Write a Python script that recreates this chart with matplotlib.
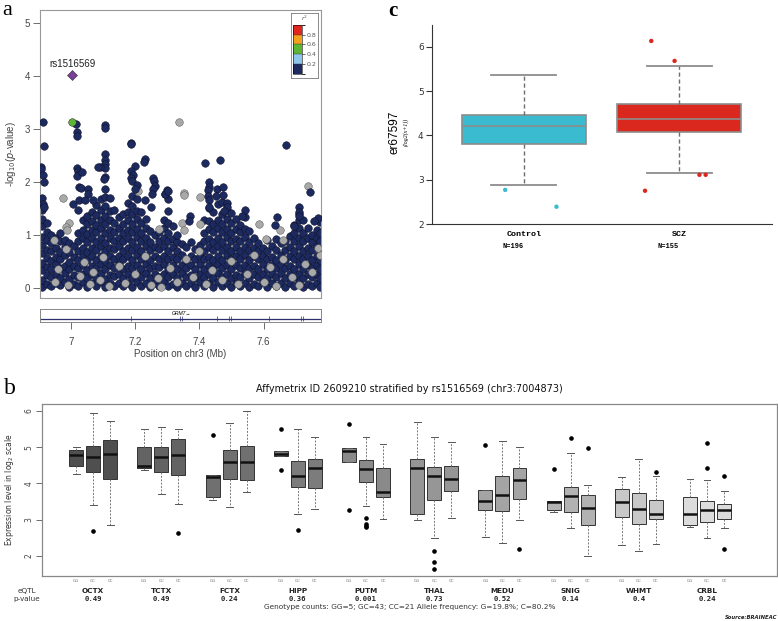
import matplotlib
matplotlib.use('Agg')
import matplotlib as mpl
import matplotlib.pyplot as plt
import matplotlib.transforms as mtransforms
from matplotlib.colors import ListedColormap, BoundaryNorm
import numpy as np

# ---------------- panel a : regional association (LocusZoom style) ----------------
band_mb = [6.911, 6.925, 6.939, 6.953, 6.967, 6.981, 6.995, 7.009, 7.023, 7.037, 7.051,
           7.065, 7.079, 7.093, 7.107, 7.121, 7.135, 7.149, 7.163, 7.177, 7.191, 7.205,
           7.219, 7.233, 7.247, 7.261, 7.275, 7.289, 7.303, 7.317, 7.331, 7.345, 7.359,
           7.373, 7.387, 7.401, 7.415, 7.429, 7.443, 7.457, 7.471, 7.485, 7.499, 7.513,
           7.527, 7.541, 7.555, 7.569, 7.583, 7.597, 7.612, 7.626, 7.640, 7.654, 7.668,
           7.682, 7.696, 7.710, 7.724, 7.738, 7.752, 7.766, 7.776]
band_logp = [
    [0.01, 0.15, 0.33, 0.47, 0.66, 0.81, 0.97, 1.16, 1.3, 1.47],
    [0.08, 0.24, 0.4, 0.57, 0.72, 0.91, 1.05, 1.22],
    [0.03, 0.21, 0.36, 0.5, 0.7, 0.84, 1.0],
    [0.1, 0.26, 0.45, 0.59, 0.76, 0.94],
    [0.05, 0.19, 0.37, 0.55, 0.68, 0.88, 1.04],
    [0.12, 0.28, 0.42, 0.62, 0.77, 0.9],
    [0.02, 0.16, 0.35, 0.49, 0.67, 0.85],
    [0.07, 0.25, 0.42, 0.59, 0.79],
    [0.03, 0.2, 0.38, 0.52, 0.7, 0.89, 1.04],
    [0.11, 0.26, 0.44, 0.6, 0.76, 0.95, 1.1, 1.29],
    [0.02, 0.18, 0.34, 0.53, 0.68, 0.86, 1.01, 1.2, 1.35],
    [0.09, 0.27, 0.41, 0.6, 0.75, 0.94, 1.09, 1.27, 1.44],
    [0.04, 0.2, 0.37, 0.52, 0.71, 0.86, 1.05, 1.19, 1.38, 1.57],
    [0.12, 0.28, 0.45, 0.61, 0.79, 0.95, 1.13, 1.28, 1.47, 1.67],
    [0.02, 0.17, 0.35, 0.51, 0.7, 0.85, 1.03, 1.21, 1.36, 1.55, 1.71, 1.86],
    [0.1, 0.25, 0.43, 0.61, 0.76, 0.95, 1.1, 1.29, 1.45, 1.69],
    [0.04, 0.22, 0.38, 0.55, 0.73, 0.88, 1.06, 1.22, 1.48],
    [0.1, 0.27, 0.45, 0.6, 0.79, 0.94, 1.13, 1.33],
    [0.03, 0.18, 0.36, 0.54, 0.7, 0.88, 1.03, 1.21, 1.4],
    [0.09, 0.26, 0.42, 0.61, 0.76, 0.95, 1.1, 1.29, 1.44, 1.61],
    [0.02, 0.19, 0.37, 0.52, 0.71, 0.86, 1.05, 1.2, 1.39, 1.55, 1.73],
    [0.11, 0.27, 0.44, 0.62, 0.77, 0.96, 1.11, 1.3, 1.46, 1.68],
    [0.03, 0.21, 0.36, 0.55, 0.7, 0.89, 1.04, 1.23, 1.43],
    [0.1, 0.28, 0.46, 0.61, 0.8, 0.95, 1.14, 1.31],
    [0.02, 0.18, 0.37, 0.52, 0.71, 0.86, 1.07],
    [0.09, 0.27, 0.42, 0.61, 0.77, 0.99],
    [0.04, 0.2, 0.39, 0.55, 0.73, 0.88, 1.06],
    [0.11, 0.26, 0.45, 0.6, 0.79, 0.94, 1.13, 1.28],
    [0.03, 0.21, 0.36, 0.55, 0.7, 0.89, 1.04, 1.23, 1.45],
    [0.08, 0.26, 0.44, 0.59, 0.78, 0.93, 1.17],
    [0.02, 0.19, 0.35, 0.54, 0.69, 0.87, 0.99],
    [0.1, 0.28, 0.43, 0.62, 0.83],
    [0.04, 0.2, 0.38, 0.53, 0.78],
    [0.09, 0.25, 0.44, 0.6, 0.86],
    [0.02, 0.19, 0.35, 0.54, 0.73],
    [0.11, 0.27, 0.45, 0.61, 0.81],
    [0.03, 0.21, 0.36, 0.55, 0.7, 0.89, 1.04, 1.28],
    [0.09, 0.26, 0.44, 0.59, 0.78, 0.93, 1.12, 1.27, 1.5],
    [0.02, 0.18, 0.37, 0.52, 0.71, 0.86, 1.05, 1.2, 1.43],
    [0.12, 0.28, 0.46, 0.61, 0.8, 0.95, 1.14, 1.29, 1.58],
    [0.03, 0.2, 0.38, 0.53, 0.72, 0.87, 1.06, 1.21, 1.4, 1.63],
    [0.1, 0.27, 0.43, 0.62, 0.77, 0.96, 1.11, 1.3, 1.48],
    [0.02, 0.19, 0.36, 0.54, 0.69, 0.88, 1.03, 1.22, 1.41],
    [0.09, 0.25, 0.44, 0.6, 0.78, 0.93, 1.12, 1.3],
    [0.04, 0.21, 0.37, 0.55, 0.7, 0.89, 1.05, 1.18],
    [0.1, 0.28, 0.43, 0.62, 0.77, 0.96, 1.11, 1.33],
    [0.02, 0.18, 0.37, 0.52, 0.71, 0.86, 1.08],
    [0.08, 0.26, 0.42, 0.61, 0.76, 0.94],
    [0.03, 0.21, 0.36, 0.55, 0.7, 0.84],
    [0.11, 0.27, 0.45, 0.6, 0.76],
    [0.02, 0.19, 0.35, 0.54, 0.69, 0.9],
    [0.09, 0.26, 0.44, 0.59, 0.8],
    [0.04, 0.2, 0.38, 0.53, 0.72, 0.93],
    [0.1, 0.28, 0.43, 0.62, 0.84],
    [0.02, 0.18, 0.37, 0.52, 0.71, 0.88],
    [0.09, 0.27, 0.42, 0.61, 0.77, 0.98],
    [0.03, 0.2, 0.36, 0.55, 0.7, 0.89, 1.04, 1.19],
    [0.11, 0.26, 0.45, 0.6, 0.79, 0.94, 1.13, 1.28, 1.4],
    [0.02, 0.19, 0.35, 0.54, 0.69, 0.88, 1.03, 1.28],
    [0.08, 0.27, 0.43, 0.61, 0.76, 0.95, 1.13],
    [0.04, 0.2, 0.38, 0.52, 0.71, 0.87, 0.99],
    [0.1, 0.26, 0.44, 0.6, 0.79, 0.94, 1.1],
    [0.02, 0.19, 0.35, 0.53, 0.7, 0.88, 1.03, 1.24],
]

# navy SNPs standing above the cloud
spike_mb = [6.912, 6.917, 6.908, 6.908, 6.913, 6.916, 6.910, 6.913, 6.917,
            7.017, 7.018, 7.018, 7.018, 7.022, 7.019, 7.024, 7.024, 7.023, 7.006, 7.035, 7.032,
            7.106, 7.106, 7.106, 7.106, 7.106, 7.106, 7.090, 7.085, 7.107, 7.104,
            7.053, 7.055, 7.068, 7.045,
            7.188, 7.188, 7.232, 7.228, 7.199, 7.187, 7.194, 7.188, 7.190, 7.207, 7.199,
            7.257, 7.259, 7.262, 7.257, 7.254, 7.230, 7.249, 7.293, 7.303, 7.298, 7.292, 7.302,
            7.418, 7.465, 7.670, 7.429, 7.430, 7.455, 7.475,
            7.427, 7.426, 7.431, 7.429, 7.453, 7.475, 7.485, 7.487, 7.476, 7.370, 7.369,
            7.541, 7.534, 7.643, 7.637, 7.695, 7.712, 7.712, 7.709, 7.745, 7.771, 7.758]
spike_logp = [3.13, 2.67, 2.29, 2.24, 2.13, 2.0, 1.69, 1.59, 1.53,
              3.09, 2.94, 2.86, 2.26, 2.20, 2.12, 1.90, 1.65, 1.47, 1.59, 2.18, 1.88,
              3.08, 3.02, 2.53, 2.42, 2.33, 2.27, 2.28, 2.28, 2.10, 2.06,
              1.86, 1.77, 1.65, 1.65,
              2.74, 2.71, 2.43, 2.37, 2.30, 2.20, 2.14, 2.08, 2.01, 1.95, 1.86,
              2.08, 2.02, 1.93, 1.86, 1.77, 1.65, 1.53, 1.77, 1.68, 1.84, 1.78, 1.82,
              2.35, 2.41, 2.70, 2.0, 1.91, 1.86, 1.91,
              1.85, 1.74, 1.66, 1.52, 1.73, 1.76, 1.61, 1.53, 1.45, 1.35, 1.26,
              1.48, 1.35, 1.33, 1.19, 1.17, 1.52, 1.43, 1.35, 1.81, 1.32, 1.26]

# SNPs without LD information (grey)
grey_mb = [7.338, 6.977, 7.351, 7.353, 7.403, 7.740, 6.995, 6.985, 6.988, 6.986, 6.948,
           7.345, 7.403, 7.273, 7.209, 7.586, 7.650, 7.607, 7.661, 7.351, 7.776,
           6.95, 6.96, 6.99, 7.03, 7.04, 7.06, 7.07, 7.09, 7.10, 7.12, 7.15, 7.17, 7.20,
           7.23, 7.25, 7.27, 7.28, 7.31, 7.33, 7.36, 7.38, 7.40, 7.42, 7.44, 7.47, 7.50,
           7.52, 7.55, 7.57, 7.60, 7.62, 7.64, 7.66, 7.69, 7.71, 7.73, 7.75, 7.77]
grey_logp = [3.14, 1.70, 1.79, 1.75, 1.71, 1.92, 1.23, 1.15, 1.09, 0.74, 0.90,
             1.23, 1.21, 1.12, 1.82, 1.21, 1.10, 0.93, 0.91, 1.09, 0.63,
             0.12, 0.35, 0.05, 0.22, 0.48, 0.08, 0.30, 0.15, 0.58, 0.04, 0.42, 0.10, 0.27,
             0.60, 0.05, 0.18, 0.02, 0.38, 0.12, 0.55, 0.20, 0.70, 0.08, 0.33, 0.15, 0.50,
             0.07, 0.27, 0.62, 0.12, 0.40, 0.04, 0.55, 0.20, 0.06, 0.45, 0.30, 0.75]

lead_snp = 'rs1516569'
lead_mb, lead_logp = 7.0049, 4.02
ld_mb, ld_logp = 7.0049, 3.13   # the one SNP with r2 0.4-0.6
exon_mb = [7.187, 7.341, 7.346, 7.455, 7.491, 7.498, 7.618, 7.717, 7.723]
r2_bounds = [0, 0.2, 0.4, 0.6, 0.8, 1.0]
r2_colors = ['#1c2a60', '#8ec5ea', '#5db535', '#f4a21d', '#e0261d']

# ---------------- panel b : BRAINEAC eQTL boxplots ----------------
regions = ['OCTX', 'TCTX', 'FCTX', 'HIPP', 'PUTM', 'THAL', 'MEDU', 'SNIG', 'WHMT', 'CRBL']
eqtl_p = ['0.49', '0.49', '0.24', '0.36', '0.001', '0.73', '0.52', '0.14', '0.4', '0.24']
genotypes = ['GG', 'GC', 'CC']
# per box, in order region x (GG, GC, CC)
b_whislo = [4.25, 3.40, 2.85, 4.37, 3.70, 3.44, 3.54, 3.35, 3.75, 4.75, 3.15, 3.28,
            4.58, 3.36, 3.02, 2.99, 2.49, 3.05, 2.52, 2.34, 2.99, 3.20, 2.77, 2.00,
            2.29, 2.13, 2.32, 2.80, 2.49, 2.76]
b_q1 = [4.48, 4.31, 4.12, 4.41, 4.32, 4.24, 3.61, 4.13, 4.08, 4.75, 3.89, 3.87,
        4.58, 4.03, 3.62, 3.14, 3.54, 3.78, 3.26, 3.23, 3.56, 3.27, 3.21, 2.86,
        3.08, 2.87, 3.01, 2.86, 2.92, 3.02]
b_med = [4.77, 4.73, 4.82, 4.48, 4.73, 4.79, 4.18, 4.58, 4.60, 4.82, 4.21, 4.43,
         4.89, 4.39, 3.77, 4.41, 4.19, 4.11, 3.50, 3.68, 4.09, 3.48, 3.66, 3.33,
         3.48, 3.29, 3.16, 3.15, 3.27, 3.26]
b_q3 = [4.93, 5.02, 5.20, 5.00, 5.00, 5.22, 4.23, 4.92, 5.04, 4.88, 4.62, 4.66,
        4.97, 4.65, 4.41, 4.66, 4.46, 4.49, 3.81, 4.20, 4.42, 3.50, 3.91, 3.68,
        3.85, 3.73, 3.53, 3.61, 3.50, 3.42]
b_whishi = [5.00, 5.94, 5.71, 5.49, 5.55, 5.49, 4.23, 5.66, 6.01, 4.88, 5.50, 5.28,
            4.97, 5.28, 5.08, 5.68, 5.29, 5.15, 3.81, 5.17, 5.01, 3.50, 4.83, 3.95,
            4.18, 4.66, 4.21, 4.13, 4.10, 3.79]
b_fliers = [[], [2.69], [], [], [], [2.64], [5.34], [], [], [5.50, 4.36], [2.71], [],
            [5.65, 3.27], [3.03, 2.88, 2.83, 2.80], [], [], [2.13, 1.82, 1.64], [], [5.05], [], [2.18],
            [4.40], [5.26], [4.97], [], [], [4.32], [], [5.12, 4.43], [4.20, 2.19]]
region_fill = ['#4f4f4f', '#636363', '#707070', '#7c7c7c', '#8a8a8a', '#969696',
               '#a4a4a4', '#b2b2b2', '#c8c8c8', '#dcdcdc']

# ---------------- panel c : er67597 expression by diagnosis ----------------
c_groups = ['Control', 'SCZ']
c_n = ['N=196', 'N=155']
c_whislo = [2.88, 3.15]
c_q1 = [3.81, 4.07]
c_med = [4.20, 4.37]
c_q3 = [4.46, 4.70]
c_whishi = [5.36, 5.57]
c_out_group = [0, 0, 1, 1, 1, 1, 1]
c_out_jitter = [-0.12, 0.21, -0.18, -0.03, -0.22, 0.13, 0.17]
c_out_val = [2.77, 2.39, 6.13, 5.68, 2.75, 3.11, 3.11]
c_colors = ['#3bbbd0', '#da281e']

sans = ['Liberation Sans', 'DejaVu Sans']

fig = plt.figure(figsize=(7.78, 6.21), dpi=100)
W, H = 778.0, 621.0


def px_axes(x0, y0, x1, y1):
    # axes from pixel box (top-left origin)
    return fig.add_axes([x0 / W, 1 - y1 / H, (x1 - x0) / W, (y1 - y0) / H])


# ---- panel a
ax = px_axes(40, 10, 321, 298)
xs, ys = [], []
for x, col in zip(band_mb, band_logp):
    xs += [x] * len(col)
    ys += col
dot = 30
ax.scatter(xs, ys, s=dot, c=r2_colors[0], edgecolors='#0c0c20', linewidths=0.35, zorder=2)
ax.scatter(grey_mb, grey_logp, s=dot, c='#a9a9a9', edgecolors='#555555', linewidths=0.35, zorder=3)
ax.scatter(spike_mb, spike_logp, s=dot, c=r2_colors[0], edgecolors='#0c0c20', linewidths=0.35, zorder=4)
ax.scatter([ld_mb], [ld_logp], s=dot, c=r2_colors[2], edgecolors='#222222', linewidths=0.35, zorder=5)
ax.scatter([lead_mb], [lead_logp], s=26, marker='D', c='#7b3f98', edgecolors='#222222',
           linewidths=0.35, zorder=6)
ax.text(lead_mb, lead_logp + 0.2, lead_snp, ha='center', va='center', fontsize=7,
        family=sans, color='#222222')
ax.set_xlim(6.904, 7.779)
ax.set_ylim(-0.19, 5.245)
ax.set_xticks([])
ax.set_yticks(range(6))
ax.tick_params(axis='y', length=5, width=0.6, color='#555555', labelsize=7,
               labelcolor='#444444', pad=2)
for lab in ax.get_yticklabels():
    lab.set_family(sans)
for sp in ax.spines.values():
    sp.set_color('#999999')
    sp.set_linewidth(0.8)
ax.set_ylabel('-log$_{10}$($p$-value)', fontsize=7, color='#444444', family=sans, labelpad=5)

# gene track
tr = px_axes(40, 309, 321, 322)
tr.set_xlim(6.904, 7.779)
tr.set_ylim(0, 1)
tr.axhline(0.2, color='#2b2f6e', lw=0.9)
tr.vlines(exon_mb, 0.08, 0.45, color='#2b2f6e', lw=0.5)
tr.text(7.345, 0.66, 'GRM7\u2192', fontsize=3.6, style='italic', ha='center', va='center',
        family=sans)
tr.set_yticks([])
tr.set_xticks([7.0, 7.2, 7.4, 7.6])
tr.set_xticklabels(['7', '7.2', '7.4', '7.6'])
tr.tick_params(axis='x', length=5, width=0.6, color='#555555', labelsize=7,
               labelcolor='#444444', pad=6)
for lab in tr.get_xticklabels():
    lab.set_family(sans)
for sp in tr.spines.values():
    sp.set_color('#888888')
    sp.set_linewidth(0.7)
tr.set_xlabel('Position on chr3 (Mb)', fontsize=7, color='#444444', family=sans, labelpad=1)

# r2 legend
lg = px_axes(290.5, 13, 318, 77.5)
lg.set_xticks([])
lg.set_yticks([])
for sp in lg.spines.values():
    sp.set_color('#777777')
    sp.set_linewidth(0.6)
lg.text(0.5, 0.91, 'r$^2$', ha='center', va='center', fontsize=4.5, style='italic',
        color='#555555', transform=lg.transAxes)
cax = px_axes(292.5, 25, 302, 73.5)
cmap = ListedColormap(r2_colors)
norm = BoundaryNorm(r2_bounds, cmap.N)
cb = mpl.colorbar.ColorbarBase(cax, cmap=cmap, norm=norm, ticks=[0.2, 0.4, 0.6, 0.8],
                               drawedges=True)
cb.dividers.set_color('#333333')
cb.dividers.set_linewidth(0.3)
cb.outline.set_linewidth(0.4)
cax.tick_params(length=2, width=0.4, labelsize=4.5, labelcolor='#555555', pad=1)

fig.text(2 / W, 1 - 1 / H, 'a', fontsize=16, family='Liberation Serif', va='top', ha='left')

# ---- panel c
cx = px_axes(432, 25, 772, 224)
stats_c = []
for i in range(2):
    stats_c.append(dict(med=c_med[i], q1=c_q1[i], q3=c_q3[i],
                        whislo=c_whislo[i], whishi=c_whishi[i], fliers=[]))
bp = cx.bxp(stats_c, positions=[0, 1], widths=0.8, capwidths=0.42, patch_artist=True,
            showfliers=False,
            boxprops=dict(edgecolor='#8c8c8c', linewidth=1.2),
            medianprops=dict(color='#8c8c8c', linewidth=1.2),
            whiskerprops=dict(color='#6e6e6e', linestyle=(0, (3, 2)), linewidth=1.0),
            capprops=dict(color='#8c8c8c', linewidth=1.3))
for patch, col in zip(bp['boxes'], c_colors):
    patch.set_facecolor(col)
for g, dx, v in zip(c_out_group, c_out_jitter, c_out_val):
    cx.scatter(g + dx, v, s=10, color=c_colors[g], edgecolors='none', zorder=5)
cx.set_xlim(-0.591, 1.597)
cx.set_ylim(2, 6.49)
cx.spines['top'].set_visible(False)
cx.spines['right'].set_visible(False)
cx.spines['left'].set_color('#333333')
cx.spines['bottom'].set_color('#333333')
cx.set_yticks([2, 3, 4, 5, 6])
cx.tick_params(axis='y', length=4, width=0.8, color='#333333', labelsize=6.5,
               labelcolor='#333333', pad=2)
cx.set_xticks([0, 1])
cx.set_xticklabels(c_groups)
cx.tick_params(axis='x', length=0, labelsize=6, pad=5)
for lab in cx.get_xticklabels():
    lab.set_family('Liberation Mono')
    lab.set_fontweight('bold')
ctrans = mtransforms.blended_transform_factory(cx.transData, cx.transAxes)
for i, lab in enumerate(c_n):
    cx.text(i, -0.115, lab, transform=ctrans, ha='right', va='center', fontsize=5,
            family='Liberation Mono', fontweight='bold')
fig.text(395 / W, 1 - 132 / H, 'er67597', rotation=90, fontsize=8.5, family=sans,
         ha='center', va='center')
fig.text(406 / W, 1 - 132 / H, '(log2(x+1))', rotation=90, fontsize=4.3, style='italic',
         family='Liberation Serif', ha='center', va='center')
fig.text(388 / W, 1 - 1 / H, 'c', fontsize=15, family='Liberation Serif', fontweight='bold',
         va='top', ha='left')

# ---- panel b
bx = px_axes(42, 404, 777, 576)
positions = [4 * g + k + 1 for g in range(len(regions)) for k in range(3)]
stats_b = []
for i in range(len(b_med)):
    stats_b.append(dict(med=b_med[i], q1=b_q1[i], q3=b_q3[i], whislo=b_whislo[i],
                        whishi=b_whishi[i], fliers=b_fliers[i]))
bpb = bx.bxp(stats_b, positions=positions, widths=0.82, capwidths=0.4, patch_artist=True,
             boxprops=dict(edgecolor='#333333', linewidth=0.7),
             medianprops=dict(color='#111111', linewidth=1.8),
             whiskerprops=dict(color='#777777', linestyle=(0, (2, 1.5)), linewidth=0.7),
             capprops=dict(color='#555555', linewidth=0.7),
             flierprops=dict(marker='o', markersize=2.3, markerfacecolor='black',
                             markeredgecolor='black'))
for i, patch in enumerate(bpb['boxes']):
    patch.set_facecolor(region_fill[i // 3])
bx.set_xlim(-1.0, 42.1)
bx.set_ylim(1.44, 6.19)
bx.set_xticks([])
bx.set_yticks([2, 3, 4, 5, 6])
bx.tick_params(axis='y', length=4, width=0.6, color='#555555', labelsize=5.5,
               labelcolor='#444444', labelrotation=90, pad=2)
for lab in bx.get_yticklabels():
    lab.set_va('center')
for sp in bx.spines.values():
    sp.set_color('#888888')
    sp.set_linewidth(0.9)
bx.set_ylabel('Expression level in log$_2$ scale', fontsize=5.5, color='#333333', labelpad=6)
bx.set_title('Affymetrix ID 2609210 stratified by rs1516569 (chr3:7004873)', fontsize=7,
             pad=9, color='#111111')
btrans = mtransforms.blended_transform_factory(bx.transData, bx.transAxes)
for i, pos in enumerate(positions):
    bx.text(pos, -0.027, genotypes[i % 3], transform=btrans, ha='center', va='center',
            fontsize=2.8, color='#666666')
for g, name in enumerate(regions):
    bx.text(4 * g + 2, -0.087, name, transform=btrans, ha='center', va='center',
            fontsize=5.2, fontweight='bold', color='#222222')
    bx.text(4 * g + 2, -0.131, eqtl_p[g], transform=btrans, ha='center', va='center',
            fontsize=5.2, fontweight='bold', family='DejaVu Sans Mono', color='#222222')
bx.text(-1.9, -0.087, 'eQTL', transform=btrans, ha='center', va='center', fontsize=5.2,
        color='#333333')
bx.text(-1.9, -0.131, 'p-value', transform=btrans, ha='center', va='center', fontsize=5.2,
        color='#333333')
bx.text(0.5, -0.182, 'Genotype counts: GG=5; GC=43; CC=21 Allele frequency: G=19.8%; C=80.2%',
        transform=bx.transAxes, ha='center', va='center', fontsize=5.3, color='#333333')
bx.text(1.0, -0.24, 'Source:BRAINEAC', transform=bx.transAxes, ha='right', va='center',
        fontsize=3.8, style='italic', fontweight='bold', color='#222222')
fig.text(4 / W, 1 - 388 / H, 'b', fontsize=17, family='Liberation Serif', va='center',
         ha='left')

fig.savefig('out.png', dpi=100)
